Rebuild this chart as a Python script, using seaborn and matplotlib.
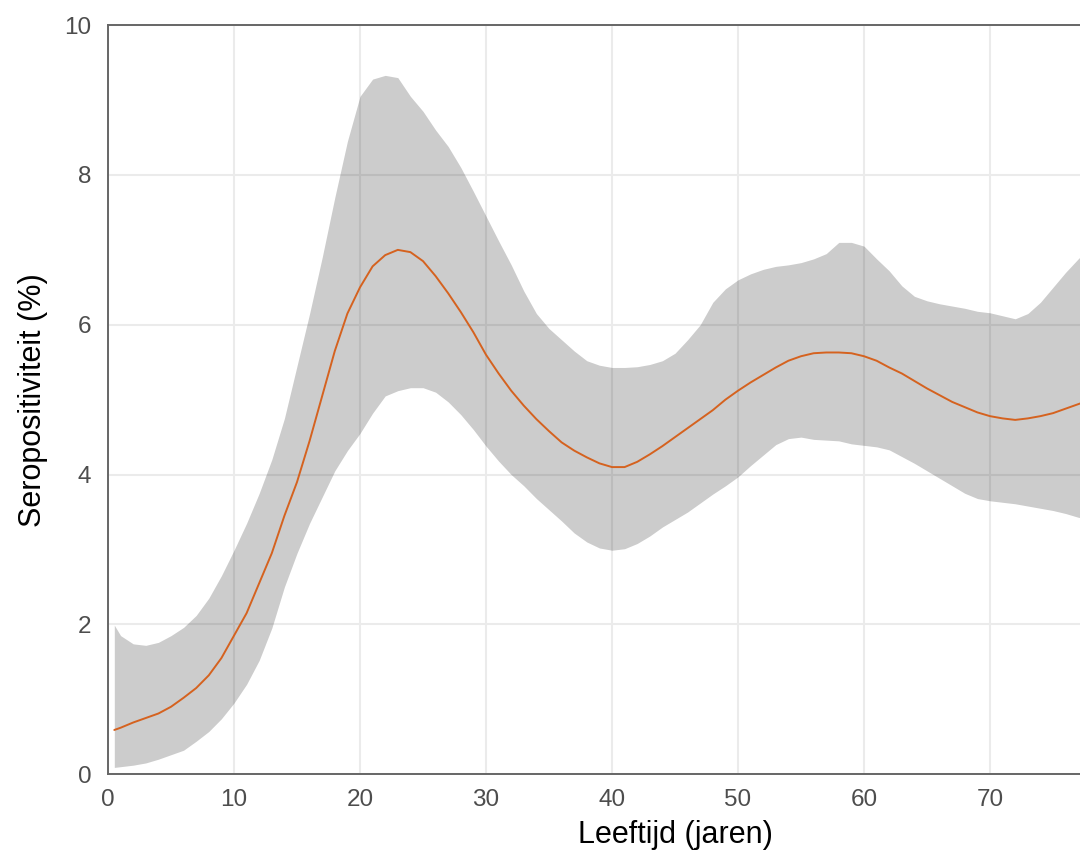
import numpy as np
import pandas as pd
import matplotlib
matplotlib.use("Agg")
import matplotlib.pyplot as plt
import seaborn as sns

age = [0.5] + list(range(1, 80))
mean = [0.59, 0.62, 0.69, 0.75, 0.81, 0.90, 1.02, 1.15, 1.32, 1.55,
        1.85, 2.15, 2.55, 2.95, 3.45, 3.90, 4.45, 5.05, 5.65, 6.15,
        6.50, 6.78, 6.93, 7.00, 6.97, 6.85, 6.65, 6.42, 6.17, 5.90,
        5.60, 5.35, 5.12, 4.92, 4.74, 4.58, 4.43, 4.32, 4.23, 4.15,
        4.10, 4.10, 4.17, 4.27, 4.38, 4.50, 4.62, 4.74, 4.86, 5.00,
        5.12, 5.23, 5.33, 5.43, 5.52, 5.58, 5.62, 5.63, 5.63, 5.62,
        5.58, 5.52, 5.43, 5.35, 5.25, 5.15, 5.06, 4.97, 4.90, 4.83,
        4.78, 4.75, 4.73, 4.75, 4.78, 4.82, 4.88, 4.94, 5.00, 5.07]
upper = [1.99, 1.85, 1.74, 1.72, 1.76, 1.85, 1.96, 2.12, 2.35, 2.65,
         2.99, 3.35, 3.75, 4.20, 4.75, 5.45, 6.15, 6.90, 7.70, 8.45,
         9.05, 9.28, 9.33, 9.30, 9.05, 8.85, 8.60, 8.38, 8.10, 7.78,
         7.45, 7.12, 6.80, 6.45, 6.15, 5.95, 5.80, 5.65, 5.52, 5.46,
         5.43, 5.43, 5.44, 5.47, 5.52, 5.62, 5.80, 6.00, 6.30, 6.48,
         6.60, 6.68, 6.74, 6.78, 6.80, 6.83, 6.88, 6.95, 7.10, 7.10,
         7.05, 6.88, 6.72, 6.52, 6.38, 6.32, 6.28, 6.25, 6.22, 6.18,
         6.16, 6.12, 6.08, 6.15, 6.30, 6.50, 6.70, 6.88, 7.05, 7.20]
lower = [0.09, 0.10, 0.12, 0.15, 0.20, 0.26, 0.32, 0.44, 0.57, 0.74,
         0.95, 1.20, 1.52, 1.95, 2.50, 2.95, 3.35, 3.70, 4.05, 4.32,
         4.55, 4.82, 5.05, 5.12, 5.16, 5.16, 5.10, 4.97, 4.80, 4.60,
         4.38, 4.18, 4.00, 3.85, 3.68, 3.53, 3.38, 3.22, 3.10, 3.02,
         2.99, 3.01, 3.08, 3.18, 3.30, 3.40, 3.50, 3.62, 3.74, 3.85,
         3.97, 4.12, 4.26, 4.40, 4.48, 4.50, 4.47, 4.46, 4.45, 4.41,
         4.39, 4.37, 4.33, 4.24, 4.15, 4.05, 3.95, 3.85, 3.75, 3.68,
         3.65, 3.63, 3.61, 3.58, 3.55, 3.52, 3.48, 3.43, 3.40, 3.37]

x_ticks = [0, 10, 20, 30, 40, 50, 60, 70]
y_ticks = [0, 2, 4, 6, 8, 10]
x_label = "Leeftijd (jaren)"
y_label = "Seropositiviteit (%)"

df = pd.DataFrame({"age": age, "mean": mean, "upper": upper, "lower": lower})

sns.set_style("white")
plt.rcParams["font.family"] = ["Liberation Sans", "DejaVu Sans"]

fig = plt.figure(figsize=(10.8, 8.65), dpi=100)
# axes extends beyond the right edge (the reference is cropped)
ax = fig.add_axes([0.1, 0.105, 90 * 12.6 / 1080, 749 / 865])

ax.grid(True, color="#ebebeb", linewidth=1.5)
ax.set_axisbelow(True)

ax.fill_between(df["age"], df["lower"], df["upper"], color="black", alpha=0.2, linewidth=0)
sns.lineplot(data=df, x="age", y="mean", ax=ax, color="#d5621f", linewidth=1.4)

ax.set_xlim(0, 90)
ax.set_ylim(0, 10)
ax.set_xticks(x_ticks)
ax.set_yticks(y_ticks)
ax.set_xticklabels([str(t) for t in x_ticks])
ax.set_yticklabels([str(t) for t in y_ticks])

for s in ["left", "bottom", "top", "right"]:
    ax.spines[s].set_visible(True)
    ax.spines[s].set_color("#666666")
    ax.spines[s].set_linewidth(1.4)

ax.tick_params(axis="both", which="major", length=6, width=1.6, color="#333333",
               labelsize=17.5, labelcolor="#4d4d4d", direction="out")
ax.tick_params(axis="x", pad=5)
ax.tick_params(axis="y", pad=6)

ax.set_xlabel(x_label, fontsize=22, color="black", labelpad=6)
ax.set_ylabel(y_label, fontsize=22, color="black", labelpad=12)

fig.savefig("out.png", dpi=100)
